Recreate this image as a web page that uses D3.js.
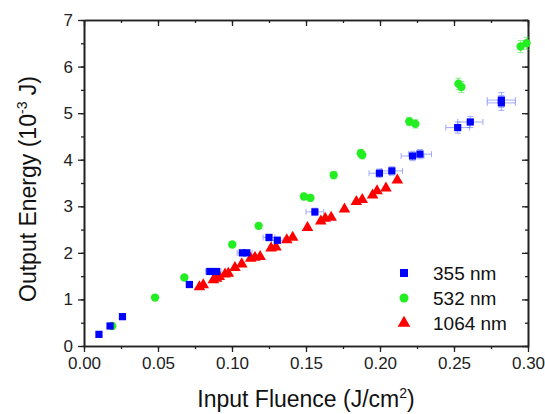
<!DOCTYPE html>
<html>
<head>
<meta charset="utf-8">
<script src="https://cdn.jsdelivr.net/npm/d3@7"></script>
<style>
  body { margin: 0; background: #fff; }
  svg { font-family: Arial, "Liberation Sans", sans-serif; }
  .axis path, .axis line { stroke: #222; }
  .axis text { fill: #222; font-size: 17px; }
</style>
</head>
<body>
<svg id="chart"></svg>
<script>
// 355 nm
var blueX = [0.0101, 0.0176, 0.026, 0.0712, 0.085, 0.0896, 0.107, 0.110, 0.125, 0.1306, 0.156, 0.1996, 0.208, 0.222, 0.227, 0.2525, 0.261, 0.282, 0.282];
var blueY = [0.25, 0.43, 0.63, 1.32, 1.60, 1.60, 2.00, 2.00, 2.33, 2.27, 2.88, 3.71, 3.76, 4.08, 4.12, 4.69, 4.81, 5.28, 5.22];
var blueXErr = [0.0005, 0.0008, 0.001, 0.002, 0.003, 0.003, 0.0035, 0.0035, 0.004, 0.004, 0.006, 0.007, 0.0072, 0.0077, 0.0078, 0.008, 0.0085, 0.0095, 0.0095];
var blueYErr = [0.03, 0.03, 0.04, 0.05, 0.05, 0.05, 0.06, 0.06, 0.07, 0.07, 0.08, 0.09, 0.09, 0.1, 0.1, 0.12, 0.12, 0.16, 0.16];

// 532 nm
var greenX = [0.0191, 0.048, 0.0678, 0.1002, 0.118, 0.1486, 0.153, 0.1687, 0.187, 0.188, 0.2198, 0.2239, 0.253, 0.255, 0.295, 0.299];
var greenY = [0.43, 1.04, 1.47, 2.18, 2.58, 3.21, 3.18, 3.67, 4.14, 4.10, 4.82, 4.77, 5.63, 5.56, 6.43, 6.50];
var greenYErr = [0.03, 0.04, 0.05, 0.06, 0.06, 0.07, 0.07, 0.08, 0.08, 0.08, 0.09, 0.09, 0.12, 0.12, 0.13, 0.13];

// 1064 nm
var redX = [0.078, 0.0806, 0.0874, 0.0896, 0.0914, 0.0953, 0.0975, 0.102, 0.1066, 0.1126, 0.1155, 0.119, 0.1264, 0.1297, 0.137, 0.141, 0.151, 0.16, 0.163, 0.167, 0.176, 0.184, 0.188, 0.195, 0.198, 0.204, 0.2117];
var redY = [1.27, 1.31, 1.42, 1.45, 1.49, 1.54, 1.56, 1.68, 1.76, 1.88, 1.90, 1.92, 2.10, 2.12, 2.28, 2.33, 2.54, 2.68, 2.74, 2.76, 2.94, 3.10, 3.14, 3.24, 3.33, 3.39, 3.56];

var legendLabels = ["355 nm", "532 nm", "1064 nm"];
var xTicks = [0, 0.05, 0.10, 0.15, 0.20, 0.25, 0.30];
var yTicks = [0, 1, 2, 3, 4, 5, 6, 7];

var margin = {top: 20, right: 17, bottom: 68, left: 84},
    width = 545 - margin.left - margin.right,
    height = 414 - margin.top - margin.bottom;

var svg = d3.select("#chart")
    .attr("width", 545)
    .attr("height", 414)
  .append("g")
    .attr("transform", "translate(" + margin.left + "," + margin.top + ")");

var x = d3.scaleLinear().domain([0, 0.30]).range([0, width]);
var y = d3.scaleLinear().domain([0, 7]).range([height, 0]);

var xMinor = d3.range(0, 0.3001, 0.025);
var yMinor = d3.range(0, 7.001, 0.5);

// minor ticks first (no labels)
svg.append("g").attr("class", "axis")
    .attr("transform", "translate(0," + height + ")")
    .call(d3.axisBottom(x).tickValues(xMinor).tickSize(3).tickSizeOuter(0).tickFormat(""));
svg.append("g").attr("class", "axis")
    .call(d3.axisLeft(y).tickValues(yMinor).tickSize(3).tickSizeOuter(0).tickFormat(""));
svg.append("g").attr("class", "axis")
    .call(d3.axisTop(x).tickValues(xMinor).tickSize(-3).tickSizeOuter(0).tickFormat(""));
svg.append("g").attr("class", "axis")
    .attr("transform", "translate(" + width + ",0)")
    .call(d3.axisRight(y).tickValues(yMinor).tickSize(-3).tickSizeOuter(0).tickFormat(""));

// major ticks
svg.append("g").attr("class", "axis")
    .attr("transform", "translate(0," + height + ")")
    .call(d3.axisBottom(x).tickValues(xTicks).tickSize(6).tickSizeOuter(0).tickPadding(5).tickFormat(d3.format(".2f")));
svg.append("g").attr("class", "axis")
    .call(d3.axisLeft(y).tickValues(yTicks).tickSize(6).tickSizeOuter(0).tickPadding(5).tickFormat(d3.format("d")));
svg.append("g").attr("class", "axis")
    .call(d3.axisTop(x).tickValues(xTicks).tickSize(-6).tickSizeOuter(0).tickFormat(""));
svg.append("g").attr("class", "axis")
    .attr("transform", "translate(" + width + ",0)")
    .call(d3.axisRight(y).tickValues(yTicks).tickSize(-6).tickSizeOuter(0).tickFormat(""));

svg.selectAll(".axis path").attr("stroke-width", 1.6);
svg.selectAll(".axis line").attr("stroke-width", 1.3);

// axis titles
svg.append("text")
    .attr("x", width / 2)
    .attr("y", height + 61)
    .attr("text-anchor", "middle")
    .style("font-size", "23px")
    .attr("fill", "#111")
    .html('Input Fluence (J/cm<tspan dy="-9" font-size="14px">2</tspan><tspan dy="9">)</tspan>');

svg.append("text")
    .attr("transform", "translate(-48," + (height / 2 + 6) + ") rotate(-90)")
    .attr("text-anchor", "middle")
    .style("font-size", "23px")
    .attr("fill", "#111")
    .html('Output Energy (10<tspan dy="-9" font-size="14px">-3</tspan><tspan dy="9"> J)</tspan>');

// error bars
function hBars(xs, ys, errs, color) {
  var g = svg.append("g").attr("stroke", color).attr("stroke-width", 1).attr("opacity", 0.55);
  xs.forEach(function(d, i) {
    var x0 = x(d - errs[i]), x1 = x(d + errs[i]), yy = y(ys[i]);
    g.append("line").attr("x1", x0).attr("x2", x1).attr("y1", yy).attr("y2", yy);
    g.append("line").attr("x1", x0).attr("x2", x0).attr("y1", yy - 3).attr("y2", yy + 3);
    g.append("line").attr("x1", x1).attr("x2", x1).attr("y1", yy - 3).attr("y2", yy + 3);
  });
}
function vBars(xs, ys, errs, color) {
  var g = svg.append("g").attr("stroke", color).attr("stroke-width", 1).attr("opacity", 0.55);
  xs.forEach(function(d, i) {
    var xx = x(d), y0 = y(ys[i] - errs[i]), y1 = y(ys[i] + errs[i]);
    g.append("line").attr("x1", xx).attr("x2", xx).attr("y1", y0).attr("y2", y1);
    g.append("line").attr("x1", xx - 3).attr("x2", xx + 3).attr("y1", y0).attr("y2", y0);
    g.append("line").attr("x1", xx - 3).attr("x2", xx + 3).attr("y1", y1).attr("y2", y1);
  });
}

hBars(blueX, blueY, blueXErr, "#5566ff");
vBars(blueX, blueY, blueYErr, "#5566ff");
vBars(greenX, greenY, greenYErr, "#33dd33");

var square = d3.symbol().type(d3.symbolSquare).size(52);
var circle = d3.symbol().type(d3.symbolCircle).size(55);
var triangle = d3.symbol().type(d3.symbolTriangle).size(58);

function points(xs, ys, sym, color) {
  svg.append("g").selectAll("path")
    .data(xs)
    .enter().append("path")
      .attr("d", sym)
      .attr("fill", color)
      .attr("transform", function(d, i) { return "translate(" + x(d) + "," + y(ys[i]) + ")"; });
}

points(redX, redY, triangle, "#ff0000");
points(greenX, greenY, circle, "#22ee22");
points(blueX, blueY, square, "#0000ff");

// legend
var legend = svg.append("g").attr("transform", "translate(320,253)");
var legendSyms = [d3.symbol().type(d3.symbolSquare).size(64), d3.symbol().type(d3.symbolCircle).size(64), d3.symbol().type(d3.symbolTriangle).size(70)];
var legendColors = ["#0000ff", "#22ee22", "#ff0000"];
legendLabels.forEach(function(lab, i) {
  legend.append("path")
    .attr("d", legendSyms[i])
    .attr("fill", legendColors[i])
    .attr("transform", "translate(0," + (i * 25) + ")");
  legend.append("text")
    .attr("x", 29)
    .attr("y", i * 25 + 7)
    .style("font-size", "19px")
    .attr("fill", "#111")
    .text(lab);
});
</script>
</body>
</html>
